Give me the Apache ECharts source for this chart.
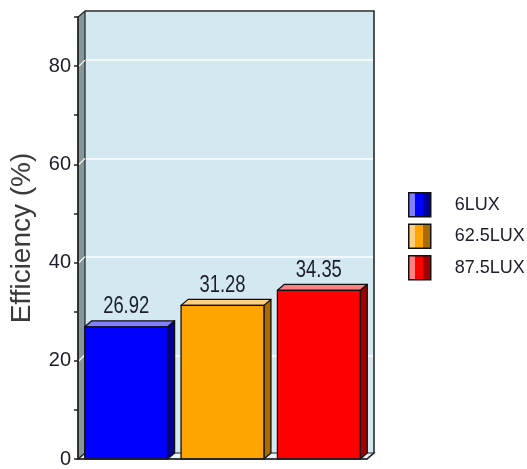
<!DOCTYPE html>
<html>
<head>
<meta charset="utf-8">
<script src="https://cdn.jsdelivr.net/npm/echarts@6/dist/echarts.min.js"></script>
<style>html,body{margin:0;padding:0;background:#fff}#chart{width:527px;height:469px}</style>
</head>
<body>
<div id="chart"></div>
<script>
// ---- data ----
const categories = ['6LUX', '62.5LUX', '87.5LUX'];
const efficiency = [26.92, 31.28, 34.35];
const yTickLabels = [0, 20, 40, 60, 80];
const yMin = 0;
const yMax = 90;
const yMinorStep = 10;
const yAxisTitle = 'Efficiency (%)';

// ---- styles ----
const faceColors = ['#0000ff', '#ffa500', '#ff0000'];
const topColors = ['#8080ff', '#ffd080', '#ff8080'];
const sideColors = ['#00009a', '#a86c00', '#a00000'];
const DX = 7, DY = -6;
const ink = '#1c1c2a';
const sans = '"Liberation Sans", Arial, sans-serif';

const chart = echarts.init(document.getElementById('chart'), null, {renderer: 'canvas'});

function renderBar(params, api) {
  const i = api.value(0), v = api.value(1);
  const top = api.coord([i, v]);
  const base = api.coord([i, 0]);
  const bw = api.size([1, 0])[0] * 0.86;
  const x0 = top[0] - bw / 2, x1 = top[0] + bw / 2, yT = top[1], yB = base[1];
  const s = params.seriesIndex - 1;
  const stroke = {stroke: '#111', lineWidth: 1.3, lineJoin: 'round'};
  return {
    type: 'group',
    children: [
      {type: 'polygon', shape: {points: [[x1, yB], [x1, yT], [x1 + DX, yT + DY], [x1 + DX, yB + DY]]},
       style: Object.assign({fill: sideColors[s]}, stroke)},
      {type: 'polygon', shape: {points: [[x0, yT], [x1, yT], [x1 + DX, yT + DY], [x0 + DX, yT + DY]]},
       style: Object.assign({fill: topColors[s]}, stroke)},
      {type: 'rect', shape: {x: x0, y: yT, width: bw, height: yB - yT},
       style: Object.assign({fill: faceColors[s]}, stroke)},
      {type: 'text', x: top[0], y: yT - 20, scaleX: 0.8, scaleY: 1,
       style: {text: v.toFixed(2), x: 0, y: 0, align: 'center', verticalAlign: 'middle',
        fill: ink, font: '23px ' + sans}}
    ]
  };
}

function renderWalls(params, api) {
  const cs = params.coordSys;
  const x = cs.x, y = cs.y, w = cs.width, h = cs.height;
  const children = [];
  children.push({type: 'polygon', shape: {points: [[x, y + h], [x + w, y + h], [x + w + DX, y + h + DY], [x + DX, y + h + DY]]},
    style: {fill: '#eaf3f6', stroke: '#222', lineWidth: 1.2}});
  children.push({type: 'polygon', shape: {points: [[x, y + h], [x, y], [x + DX, y + DY], [x + DX, y + h + DY]]},
    style: {fill: '#86979b', stroke: '#222', lineWidth: 1.2}});
  yTickLabels.forEach(function (t) {
    if (t === 0) return;
    const p = api.coord([0, t]);
    children.push({type: 'line', shape: {x1: x + 1, y1: p[1], x2: x + DX, y2: p[1] + DY},
      style: {stroke: '#ffffff', lineWidth: 1.2}});
  });
  children.push({type: 'polyline', shape: {points: [[x + DX, y + DY], [x + w + DX, y + DY], [x + w + DX, y + h + DY], [x + w, y + h]]},
    style: {fill: null, stroke: '#2a2a2a', lineWidth: 1.6}});
  return {type: 'group', children: children};
}

const legendGradient = function (s) {
  return new echarts.graphic.LinearGradient(0, 0, 1, 0, [
    {offset: 0, color: topColors[s]}, {offset: 0.28, color: topColors[s]},
    {offset: 0.28, color: faceColors[s]}, {offset: 0.64, color: faceColors[s]},
    {offset: 0.64, color: sideColors[s]}, {offset: 1, color: sideColors[s]}
  ]);
};

const series = [{
  type: 'custom', name: 'walls', xAxisIndex: 0, yAxisIndex: 0, z: 1,
  renderItem: renderWalls, data: [[0, 0]], silent: true
}];
categories.forEach(function (c, i) {
  series.push({
    type: 'custom', name: c, xAxisIndex: 0, yAxisIndex: 0, z: 5,
    renderItem: renderBar,
    encode: {x: 0, y: 1},
    itemStyle: {color: legendGradient(i), borderColor: '#111', borderWidth: 1.5},
    data: [[i, efficiency[i]]]
  });
});

chart.setOption({
  animation: false,
  backgroundColor: '#ffffff',
  grid: [
    {left: 74, right: 160, top: 17, bottom: 9, show: false},
    {left: 74 + DX, right: 160 - DX, top: 17 + DY, bottom: 9 - DY, show: true,
     backgroundColor: '#d3e8f0', borderWidth: 0, z: 0}
  ],
  xAxis: [
    {type: 'category', gridIndex: 0, data: categories, boundaryGap: true,
     axisLine: {show: true, lineStyle: {color: '#222', width: 1.5}},
     axisTick: {show: false}, axisLabel: {show: false}, splitLine: {show: false}, z: 6},
    {type: 'category', gridIndex: 1, data: categories, show: false}
  ],
  yAxis: [
    {type: 'value', gridIndex: 0, min: yMin, max: yMax, interval: yMinorStep,
     name: yAxisTitle, nameLocation: 'middle', nameRotate: 90, nameGap: 42,
     nameTextStyle: {fontFamily: sans, fontSize: 28, color: '#3a3a3a'},
     axisLine: {show: true, lineStyle: {color: '#222', width: 1.5}},
     axisTick: {show: true, length: 4, lineStyle: {color: '#222', width: 1.5}},
     axisLabel: {margin: 7, fontFamily: sans, fontSize: 20, color: ink,
       formatter: function (v) { return yTickLabels.indexOf(v) >= 0 ? String(v) : ''; }},
     splitLine: {show: false}, z: 6},
    {type: 'value', gridIndex: 1, min: yMin, max: yMax, interval: 20,
     axisLine: {show: false}, axisTick: {show: false}, axisLabel: {show: false},
     splitLine: {show: true, lineStyle: {color: '#ffffff', width: 1.5}}}
  ],
  legend: {
    orient: 'vertical', left: 403, top: 187, itemGap: 6, itemWidth: 22, itemHeight: 24,
    icon: 'rect', data: categories, selectedMode: false,
    itemStyle: {borderColor: '#111', borderWidth: 1.5},
    textStyle: {fontFamily: sans, fontSize: 18, color: ink, padding: [0, 0, 0, 19]}
  },
  series: series
});
</script>
</body>
</html>
